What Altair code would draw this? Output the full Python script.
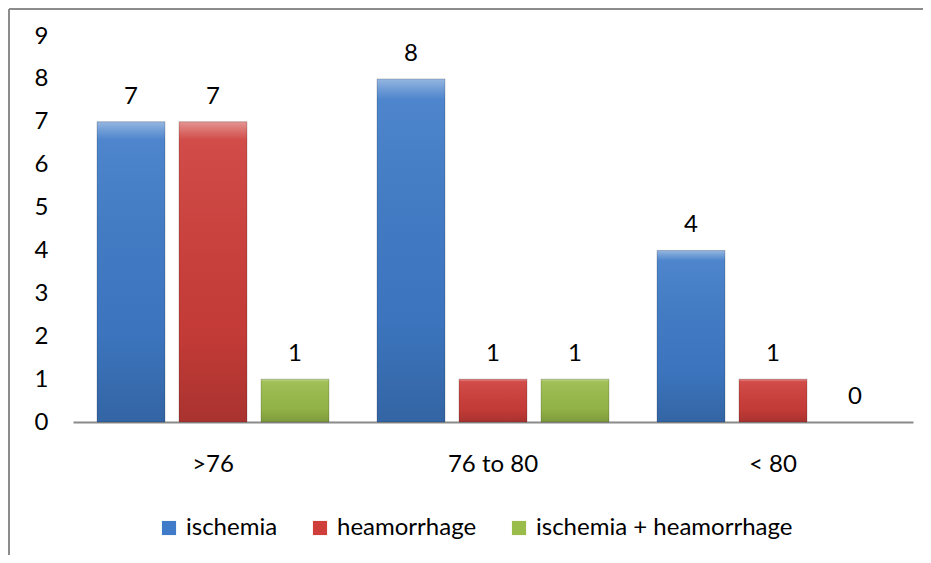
import altair as alt
import pandas as pd

categories = [">76", "76 to 80", "< 80"]
series = ["ischemia", "heamorrhage", "ischemia + heamorrhage"]
ischemia = [7, 8, 4]
heamorrhage = [7, 1, 1]
both = [1, 1, 0]
colors = ["#3F7BC8", "#CE3E3A", "#99BC4A"]

rows = []
for i, c in enumerate(categories):
    for s, vals in zip(series, [ischemia, heamorrhage, both]):
        rows.append({"cat": c, "series": s, "value": vals[i]})
df = pd.DataFrame(rows)

FONT = "Lato"

x_enc = alt.X("cat:N", sort=categories, scale=alt.Scale(paddingInner=0, paddingOuter=0),
              axis=alt.Axis(title=None, labelAngle=0, labelFontSize=24, labelFont=FONT,
                            labelColor="#000000", labelPadding=30, ticks=False,
                            domainColor="#8a8a8a", domainWidth=2))
xo_enc = alt.XOffset("series:N", sort=series,
                     scale=alt.Scale(domain=series, paddingInner=0.1707, paddingOuter=0.2927))
y_enc = alt.Y("value:Q", scale=alt.Scale(domain=[0, 9], nice=False),
              axis=alt.Axis(title=None, values=list(range(10)), grid=False, domain=False,
                            ticks=False, labelFontSize=24, labelFont=FONT,
                            labelColor="#000000", labelPadding=25))

base = alt.Chart(df)

bars = base.mark_bar().encode(
    x=x_enc, xOffset=xo_enc, y=y_enc,
    color=alt.Color("series:N", sort=series,
                    scale=alt.Scale(domain=series, range=colors),
                    legend=alt.Legend(title=None, orient="none", legendX=84, legendY=480,
                                      direction="horizontal", symbolType="square",
                                      symbolSize=200, symbolStrokeWidth=0,
                                      labelFontSize=24, labelFont=FONT, labelColor="#000000",
                                      labelOffset=5, columnPadding=30, labelLimit=500)),
)

shade = base.mark_bar(
    color=alt.Gradient(
        gradient="linear", x1=0, y1=0, x2=0, y2=1,
        stops=[
            alt.GradientStop(offset=0, color="rgba(255,255,255,0.45)"),
            alt.GradientStop(offset=0.03, color="rgba(255,255,255,0.25)"),
            alt.GradientStop(offset=0.06, color="rgba(255,255,255,0.08)"),
            alt.GradientStop(offset=0.7, color="rgba(0,0,0,0.05)"),
            alt.GradientStop(offset=1, color="rgba(0,0,0,0.18)"),
        ],
    ),
    stroke="rgba(0,0,0,0.18)", strokeWidth=1,
).encode(x=x_enc, xOffset=xo_enc, y=y_enc).transform_filter("datum.value > 0")

labels = base.mark_text(dy=-25, fontSize=24, font=FONT, color="#000000", baseline="middle").encode(
    x=x_enc, xOffset=xo_enc, y=y_enc, text="value:Q"
)

border_df = pd.DataFrame({"a": [0]})
left_border = alt.Chart(border_df).mark_rule(color="#8c8c8c", strokeWidth=2).encode(
    x=alt.value(-64), y=alt.value(-27), y2=alt.value(530)
)
top_border = alt.Chart(border_df).mark_rule(color="#8c8c8c", strokeWidth=2).encode(
    x=alt.value(-64), x2=alt.value(860), y=alt.value(-27)
)

chart = alt.layer(left_border, top_border, bars, shade, labels).properties(
    width=840, height=386,
    autosize=alt.AutoSizeParams(type="none"),
    padding={"left": 65, "top": 28, "right": 10, "bottom": 133},
).configure(background="#ffffff").configure_view(strokeWidth=0, stroke=None)

chart.save("out.html", embed_options={"renderer": "svg", "actions": False})
